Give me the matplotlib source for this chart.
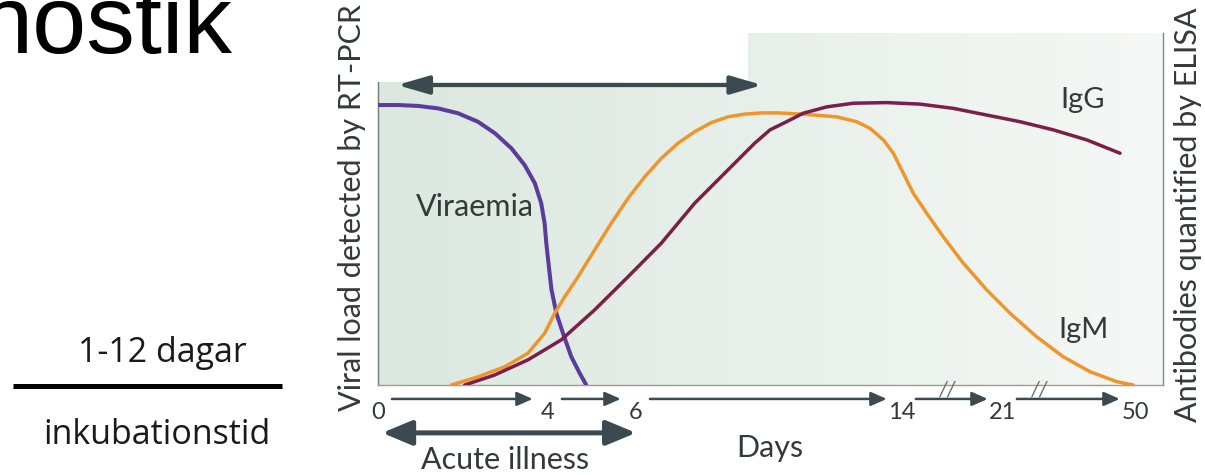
import numpy as np
import matplotlib
matplotlib.use("Agg")
import matplotlib.pyplot as plt
from matplotlib.colors import LinearSegmentedColormap
from matplotlib.patches import Polygon

# ---------------- data ----------------
tick_days = [0, 4, 6, 14, 21, 50]
tick_labels = ["0", "4", "6", "14", "21", "50"]

viraemia_days = [0, 0.47, 0.94, 1.41, 1.88, 2.35, 2.75, 3.14, 3.45, 3.69, 3.84, 3.92,
                 3.96, 4.02, 4.08, 4.19, 4.34, 4.53, 4.72, 4.87]
viraemia_level = [0.924, 0.924, 0.921, 0.913, 0.897, 0.869, 0.831, 0.781, 0.726, 0.666,
                  0.600, 0.534, 0.468, 0.390, 0.314, 0.237, 0.171, 0.093, 0.039, 0.0]

igm_days = [1.725, 2.353, 2.981, 3.529, 3.922, 4.152, 4.380, 4.682, 5.061, 5.439, 5.818,
            6.262, 6.761, 7.263, 7.765, 8.265, 8.767, 9.269, 9.768, 10.269, 11.03, 12.036,
            12.637, 13.038, 13.438, 13.738, 14.09, 14.78, 15.71, 16.86, 18.25, 19.87, 22.54,
            28.40, 34.25, 40.11, 45.98, 49.6]
igm_level = [0.0, 0.027, 0.060, 0.105, 0.171, 0.237, 0.291, 0.357, 0.446, 0.534, 0.616,
             0.687, 0.748, 0.798, 0.836, 0.866, 0.885, 0.894, 0.898, 0.898, 0.894, 0.885,
             0.869, 0.847, 0.809, 0.765, 0.699, 0.633, 0.567, 0.489, 0.402, 0.314, 0.237,
             0.159, 0.093, 0.044, 0.011, 0.0]

igg_days = [2.04, 2.746, 3.529, 4.302, 5.061, 5.818, 6.761, 7.765, 8.767, 9.570, 10.03,
            10.53, 11.03, 11.74, 12.54, 13.54, 15.25, 17.56, 19.87, 24.73, 32.05, 39.39, 46.70]
igg_level = [0.0, 0.033, 0.083, 0.149, 0.248, 0.357, 0.468, 0.600, 0.710, 0.798, 0.842,
             0.869, 0.897, 0.918, 0.930, 0.932, 0.927, 0.913, 0.891, 0.869, 0.842, 0.809, 0.765]

rtpcr_window_days = (0.45, 9.8)     # top double arrow
elisa_start_day = 9.37              # shaded region steps up here
acute_illness_days = (0, 6)
break_mark_days = [17.1, 29.0]

# ---------------- layout ----------------
W, H = 1205, 475
fig = plt.figure(figsize=(W / 100, H / 100), dpi=100)
fig.patch.set_facecolor("white")


def fx(x):
    return x / W


def fy(y):
    return 1 - y / H


# compressed (broken) time axis
axis_break_days = [0, 4, 6, 14, 21, 50, 56.2]
axis_break_pos = [0, 170, 258, 524, 625, 757, 785]


def fwd(d):
    return np.interp(np.asarray(d, dtype=float), axis_break_days, axis_break_pos)


def inv(p):
    return np.interp(np.asarray(p, dtype=float), axis_break_pos, axis_break_days)


ax_l, ax_r, ax_b, ax_t = 378, 1163, 385, 33
ax = fig.add_axes([fx(ax_l), fy(ax_b), fx(ax_r - ax_l), (ax_b - ax_t) / H])
ax.set_xscale("function", functions=(fwd, inv))
XMAX = axis_break_days[-1]
YTOP = (ax_b - ax_t) / (ax_b - 82)
ax.set_facecolor("none")

CHART_FONT = ["Lato", "DejaVu Sans"]
ARROW_C = "#3b4a50"
TEXT_C = "#34393c"

# background gradient, clipped to the stepped region
grad = np.linspace(0, 1, 256).reshape(1, -1)
cmap = LinearSegmentedColormap.from_list("bg", ["#dbe8df", "#f5f8f6"])
im = ax.imshow(grad, extent=(0, 1, 0, 1), transform=ax.transAxes, aspect="auto",
               cmap=cmap, zorder=0, interpolation="bilinear")
poly = Polygon([(0, 0), (0, 1), (elisa_start_day, 1), (elisa_start_day, YTOP),
                (XMAX, YTOP), (XMAX, 0)], closed=True, transform=ax.transData,
               facecolor="none", edgecolor="none")
ax.add_patch(poly)
im.set_clip_path(poly)

# curves
ax.plot(viraemia_days, viraemia_level, color="#5b3c9c", lw=2.9,
        solid_capstyle="round", solid_joinstyle="round", zorder=3)
ax.plot(igm_days, igm_level, color="#f0952c", lw=2.5,
        solid_capstyle="round", solid_joinstyle="round", zorder=3)
ax.plot(igg_days, igg_level, color="#7b1e4a", lw=2.5,
        solid_capstyle="round", solid_joinstyle="round", zorder=4)

ax.set_xlim(0, XMAX)
ax.set_ylim(0, YTOP)

# spines
ax.spines["top"].set_visible(False)
ax.spines["left"].set_bounds(0, 1.0)
ax.spines["left"].set_color("#777777")
ax.spines["right"].set_color("#888888")
ax.spines["bottom"].set_color("#a09a90")
for s in ["left", "right", "bottom"]:
    ax.spines[s].set_linewidth(1.0)

ax.set_yticks([])
ax.set_xticks(tick_days, tick_labels)
ax.tick_params(axis="x", length=0, pad=12, labelsize=17, labelcolor=TEXT_C)
for lab in ax.get_xticklabels():
    lab.set_family(CHART_FONT)

# curve labels
ax.text(2.28, 0.587, "Viraemia", fontsize=22, family=CHART_FONT, color=TEXT_C,
        ha="center", va="center", zorder=5)
ax.text(38.4, 0.94, "IgG", fontsize=21, family=CHART_FONT, color=TEXT_C, ha="center", va="center")
ax.text(38.6, 0.18, "IgM", fontsize=21, family=CHART_FONT, color=TEXT_C, ha="center", va="center")

# top RT-PCR arrow
ax.annotate("", xy=(rtpcr_window_days[1], 0.99), xytext=(rtpcr_window_days[0], 0.99),
            arrowprops=dict(arrowstyle="<|-|>,head_length=1.9,head_width=0.55",
                            mutation_scale=10, lw=3, color=ARROW_C, shrinkA=0, shrinkB=0),
            annotation_clip=False, zorder=6)

# day-to-day arrows under the axis
y_days = -0.046
for a, b in zip(tick_days[:-1], tick_days[1:]):
    ax.annotate("", xy=(b, y_days), xytext=(a, y_days),
                arrowprops=dict(arrowstyle="-|>,head_length=0.95,head_width=0.42",
                                mutation_scale=10, lw=1.8, color=ARROW_C,
                                shrinkA=10, shrinkB=11),
                annotation_clip=False)
for d in break_mark_days:
    ax.text(d, -0.014, "//", fontsize=15, color="#6a6a6a", ha="center", va="center",
            family=CHART_FONT, style="italic", clip_on=False)

# acute illness arrow
ax.annotate("", xy=(acute_illness_days[1], -0.158), xytext=(acute_illness_days[0], -0.158),
            arrowprops=dict(arrowstyle="<|-|>,head_length=1.8,head_width=0.75",
                            mutation_scale=10, lw=3.6, color=ARROW_C, shrinkA=3, shrinkB=0),
            annotation_clip=False)

fig.text(fx(505), fy(460), "Acute illness", fontsize=22, family=CHART_FONT, color=TEXT_C,
         ha="center", va="center")
fig.text(fx(770), fy(448), "Days", fontsize=22, family=CHART_FONT, color=TEXT_C,
         ha="center", va="center")

fig.text(fx(352), fy(208), "Viral load detected by RT-PCR", fontsize=22, family=CHART_FONT,
         color=TEXT_C, rotation=90, ha="center", va="center")
fig.text(fx(1188), fy(215), "Antibodies quantified by ELISA", fontsize=22, family=CHART_FONT,
         color=TEXT_C, rotation=90, ha="center", va="center")

# slide text on the left (slide title partly outside the crop, as in the reference)
fig.text(fx(-21), fy(53), "nostik", fontsize=70, family=["Liberation Sans", "DejaVu Sans"],
         color="black", ha="left", va="baseline")
fig.text(fx(162), fy(353), "1-12 dagar", fontsize=24.5, family=["Open Sans", "DejaVu Sans"],
         color="#1a1a1a", ha="center", va="center")
fig.text(fx(157), fy(435), "inkubationstid", fontsize=24.5, family=["Open Sans", "DejaVu Sans"],
         color="#1a1a1a", ha="center", va="center")
fig.add_artist(plt.Line2D([fx(13), fx(282)], [fy(386), fy(386)], color="black", lw=3.6,
                          solid_capstyle="butt"))

fig.savefig("out.png", dpi=100, facecolor="white")
